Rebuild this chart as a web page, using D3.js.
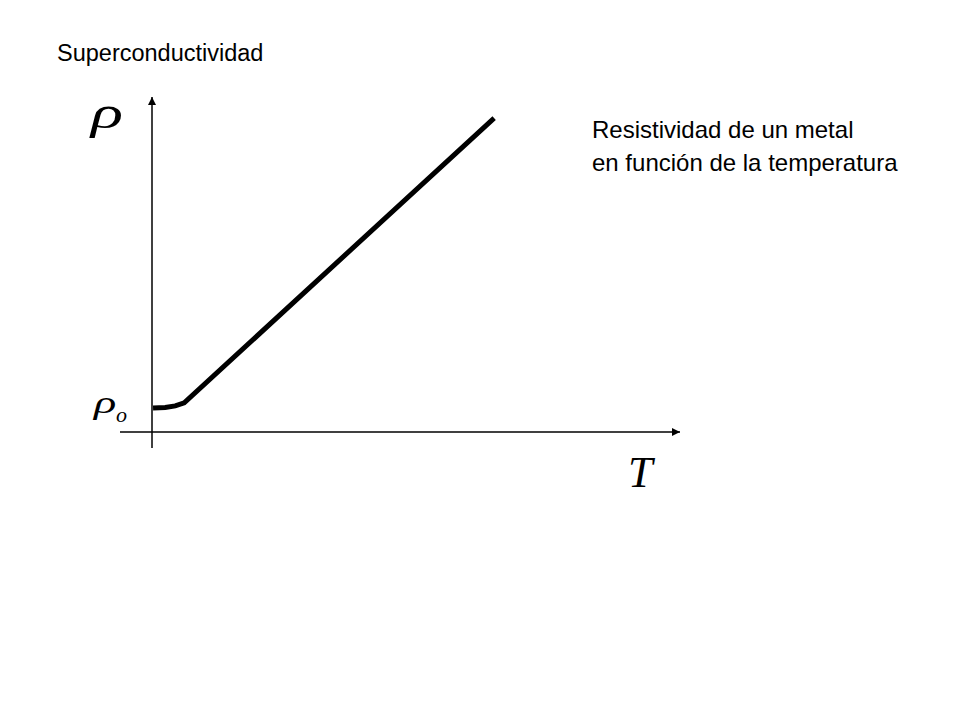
<!DOCTYPE html>
<html>
<head>
<meta charset="utf-8">
<script src="https://cdn.jsdelivr.net/npm/d3@7"></script>
<style>
  html, body { margin: 0; padding: 0; background: #fff; }
  svg { display: block; }
</style>
</head>
<body>
<svg id="chart" width="960" height="720"></svg>
<script>
// ---- data ----
const temperature = [0.2, 2.5, 4.4, 6.1, 64.8];
const resistivity = [7.2, 7.3, 7.8, 8.7, 93.7];
const title = "Superconductividad";
const noteLines = ["Resistividad de un metal", "en función de la temperatura"];
const xLabel = "T";
const yLabel = "ρ";
const y0Label = "ρ";
const y0Sub = "o";

// ---- scales ----
const svg = d3.select("#chart");
const x = d3.scaleLinear().domain([0, 100]).range([152, 680]);
const y = d3.scaleLinear().domain([0, 100]).range([432, 97]);

// arrow marker
const defs = svg.append("defs");
defs.append("marker")
  .attr("id", "arrow")
  .attr("viewBox", "0 0 10 10")
  .attr("refX", 10).attr("refY", 5)
  .attr("markerWidth", 8).attr("markerHeight", 8)
  .attr("markerUnits", "userSpaceOnUse")
  .attr("orient", "auto")
  .append("path")
  .attr("d", "M0,0 L10,5 L0,10 Z")
  .attr("fill", "#000");

// axes
svg.append("line")
  .attr("x1", x(0)).attr("y1", y(0) + 16)
  .attr("x2", x(0)).attr("y2", y(100))
  .attr("stroke", "#000").attr("stroke-width", 1.5)
  .attr("marker-end", "url(#arrow)");
svg.append("line")
  .attr("x1", x(0) - 32).attr("y1", y(0))
  .attr("x2", x(100)).attr("y2", y(0))
  .attr("stroke", "#000").attr("stroke-width", 1.5)
  .attr("marker-end", "url(#arrow)");

// curve
const pts = temperature.map((t, i) => [t, resistivity[i]]);
svg.append("path")
  .datum(pts)
  .attr("d", d3.line().x(d => x(d[0])).y(d => y(d[1])))
  .attr("fill", "none")
  .attr("stroke", "#000")
  .attr("stroke-width", 5)
  .attr("stroke-linejoin", "miter");

// labels
const serif = "'Liberation Serif', 'Times New Roman', serif";
const sans = "'Liberation Sans', Arial, sans-serif";

svg.append("text")
  .attr("transform", "translate(91,128) scale(1.45,1)")
  .attr("font-family", serif).attr("font-style", "italic")
  .attr("font-size", 46)
  .text(yLabel);

svg.append("text")
  .attr("transform", "translate(94,413) scale(1.5,1)")
  .attr("font-family", serif).attr("font-style", "italic")
  .attr("font-size", 31)
  .text(y0Label);
svg.append("text")
  .attr("x", 116).attr("y", 422)
  .attr("font-family", serif).attr("font-style", "italic")
  .attr("font-size", 22)
  .text(y0Sub);

svg.append("text")
  .attr("x", 628).attr("y", 487)
  .attr("font-family", serif).attr("font-style", "italic")
  .attr("font-size", 44)
  .text(xLabel);

svg.append("text")
  .attr("x", 57).attr("y", 61)
  .attr("font-family", sans)
  .attr("font-size", 23.5)
  .attr("fill", "#000")
  .text(title);

svg.selectAll("text.note")
  .data(noteLines)
  .enter().append("text")
  .attr("class", "note")
  .attr("x", 592)
  .attr("y", (d, i) => 138 + i * 33)
  .attr("font-family", sans)
  .attr("font-size", 24)
  .attr("fill", "#000")
  .text(d => d);
</script>
</body>
</html>
